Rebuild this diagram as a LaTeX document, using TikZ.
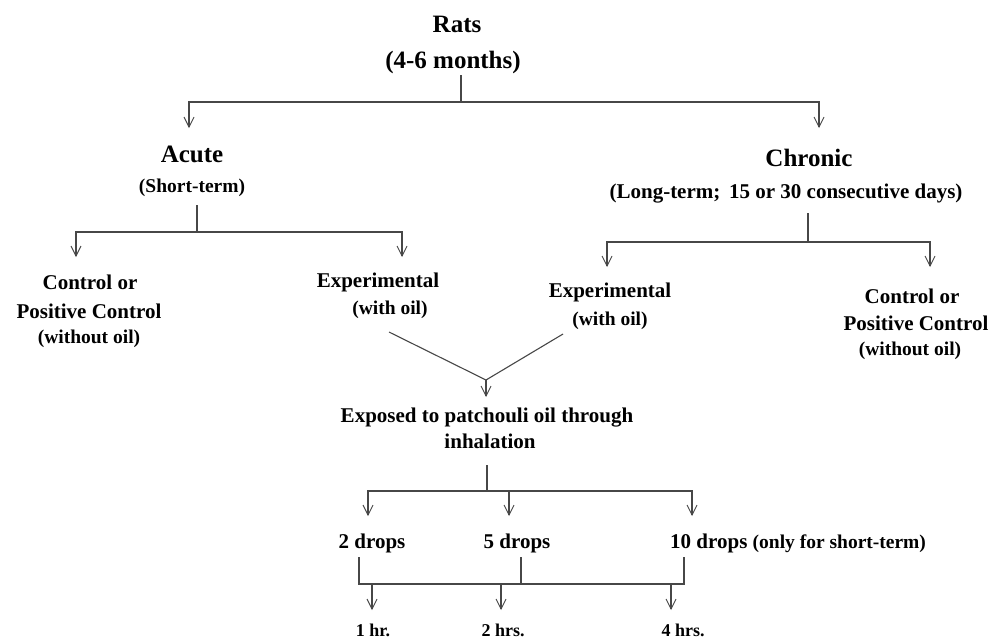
\documentclass[tikz,border=0pt]{standalone}
\usepackage{fontspec}
\setmainfont{Liberation Serif}
\usetikzlibrary{arrows.meta}
\begin{document}
\begin{tikzpicture}[x=1pt,y=-1pt,
  tb/.style={inner sep=0pt, anchor=base, font=\bfseries\fontsize{25}{30}\selectfont},
  lb/.style={inner sep=0pt, anchor=base, font=\bfseries\fontsize{21}{25}\selectfont},
  sb/.style={inner sep=0pt, anchor=base, font=\bfseries\fontsize{19.5}{23}\selectfont},
  hb/.style={inner sep=0pt, anchor=base, font=\bfseries\fontsize{18}{22}\selectfont},
  ln/.style={line width=1.1pt, draw=black!72},
  arr/.style={ln, -{Straight Barb[length=10pt,width=10pt,line width=0.9pt]}}]
\useasboundingbox (0,0) rectangle (1003,641);
% top
\node[tb] (rats) at (457,32) {Rats};
\node[tb] (months) at (453,68) {(4-6 months)};
\node[tb] (acute) at (192,162) {Acute};
\node[sb] (short) at (192,192) {(Short-term)};
\node[tb] (chronic) at (809,166) {Chronic};
\node[lb] (long) at (786,198) {(Long-term;\, 15 or 30 consecutive days)};
\coordinate (t0) at (461,75);
\coordinate (t1) at (461,102);
\coordinate (ta) at (189,128);
\coordinate (tc) at (819,128);
\draw[ln] (t0) -- (t1);
\draw[arr] (t1) -| (ta);
\draw[arr] (t1) -| (tc);
% acute branch
\node[lb] (ctl1) at (90,289) {Control or};
\node[lb] (ctl2) at (89,318) {Positive Control};
\node[sb] (ctl3) at (89,343) {(without oil)};
\node[lb] (expl1) at (378,287) {Experimental};
\node[sb] (expl2) at (390,314) {(with oil)};
\coordinate (a0) at (197,205);
\coordinate (a1) at (197,232);
\coordinate (al) at (76,257);
\coordinate (ar) at (402,257);
\draw[ln] (a0) -- (a1);
\draw[arr] (a1) -| (al);
\draw[arr] (a1) -| (ar);
% chronic branch
\node[lb] (expr1) at (610,297) {Experimental};
\node[sb] (expr2) at (610,325) {(with oil)};
\node[lb] (ctr1) at (912,303) {Control or};
\node[lb] (ctr2) at (916,330) {Positive Control};
\node[sb] (ctr3) at (910,355) {(without oil)};
\coordinate (c0) at (808,213);
\coordinate (c1) at (808,242);
\coordinate (cl) at (607,267);
\coordinate (cr) at (930,267);
\draw[ln] (c0) -- (c1);
\draw[arr] (c1) -| (cl);
\draw[arr] (c1) -| (cr);
% merge
\coordinate (v1) at (389,332);
\coordinate (v2) at (563,334);
\coordinate (vm) at (486,380);
\coordinate (vt) at (486,397);
\draw[ln] (v1) -- (vm) -- (v2);
\draw[arr] (vm) -- (vt);
\node[lb] (exp1) at (487,422) {Exposed to patchouli oil through};
\node[lb] (exp2) at (490,448) {inhalation};
% drops
\coordinate (e0) at (487,465);
\coordinate (e1) at (487,491);
\coordinate (d1) at (368,516);
\coordinate (d2) at (509,516);
\coordinate (d3) at (692,516);
\draw[ln] (e0) -- (e1);
\draw[arr] (e1) -| (d1);
\draw[arr] (e1) -| (d2);
\draw[arr] (e1) -| (d3);
\node[lb] (dr2) at (372,548) {2 drops};
\node[lb] (dr5) at (517,548) {5 drops};
\node[lb, anchor=base west] (dr10) at (670,548) {10 drops {\fontsize{19.5}{23}\selectfont(only for short-term)}};
% hours
\coordinate (h1) at (359,557);
\coordinate (h2) at (521,557);
\coordinate (h3) at (684,557);
\coordinate (hb1) at (359,584);
\coordinate (hb3) at (684,584);
\coordinate (x1) at (372,610);
\coordinate (x2) at (501,610);
\coordinate (x3) at (671,610);
\draw[ln] (h1) -- (hb1) -- (hb3) -- (h3);
\draw[ln] (h2) -- (h2 |- hb1);
\draw[arr] (x1 |- hb1) -- (x1);
\draw[arr] (x2 |- hb1) -- (x2);
\draw[arr] (x3 |- hb1) -- (x3);
\node[hb] (hr1) at (373,636) {1 hr.};
\node[hb] (hr2) at (503,636) {2 hrs.};
\node[hb] (hr4) at (683,636) {4 hrs.};
\end{tikzpicture}
\end{document}
